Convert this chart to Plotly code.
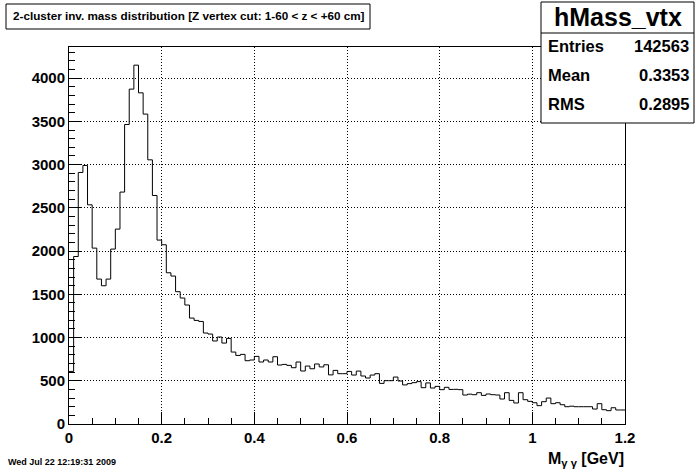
import plotly.graph_objects as go

# ---- data ----
bin_width = 0.01
x_min = 0.0
counts = [
    608, 1937, 2909, 2990, 2535, 2034, 1676, 1599, 1676, 2023,
    2254, 2682, 3464, 3873, 4150, 3830, 3584, 3055, 2643, 2127,
    2073, 1749, 1711, 1530, 1457, 1376, 1225, 1198, 1186, 1052,
    1040, 960, 1006, 936, 990, 832, 793, 805, 732, 740,
    782, 717, 740, 717, 778, 682, 689, 678, 651, 717,
    613, 670, 639, 694, 660, 685, 568, 620, 582, 582,
    608, 566, 612, 555, 532, 566, 582, 470, 501, 501,
    543, 497, 452, 467, 478, 490, 420, 475, 416, 435,
    397, 424, 400, 401, 397, 335, 345, 339, 362, 331,
    347, 339, 335, 289, 362, 273, 243, 362, 281, 262,
    246, 212, 258, 300, 235, 246, 223, 200, 206, 200,
    200, 200, 200, 173, 235, 165, 154, 188, 162, 162,
]
title_text = "2-cluster inv. mass distribution [Z vertex cut: 1-60 < z < +60 cm]"
hist_name = "hMass_vtx"
stat_labels = ["Entries", "Mean", "RMS"]
stat_values = ["142563", "0.3353", "0.2895"]
date_text = "Wed Jul 22 12:19:31 2009"
x_title = "M<sub>γ γ</sub> [GeV]"

edges = [round(x_min + i * bin_width, 4) for i in range(len(counts) + 1)]
y_step = counts + [counts[-1]]

W, H = 696, 472
L, R, T, B = 69, 625, 47, 424


def px(x):
    return (x - L) / (R - L)


def py(y):
    return (B - y) / (B - T)


FONT = "Liberation Sans, Arial, sans-serif"

fig = go.Figure()
fig.add_trace(go.Scatter(
    x=edges, y=y_step, mode="lines", line=dict(shape="hv", color="black", width=1),
    hoverinfo="skip", showlegend=False,
))

axis_common = dict(
    showline=True, linecolor="black", linewidth=1, mirror=True,
    ticks="inside", tickcolor="black", ticklen=12, tickwidth=1,
    showgrid=True, gridcolor="black", griddash="1px,2px", gridwidth=1,
    zeroline=False,
    tickfont=dict(family=FONT, size=15, color="black", weight="bold"),
)

fig.update_xaxes(
    range=[0, 1.2], dtick=0.2, tick0=0,
    minor=dict(dtick=0.05, ticks="inside", ticklen=6, tickcolor="black", showgrid=False),
    **axis_common,
)
fig.update_yaxes(
    range=[0, 4360], dtick=500, tick0=0,
    minor=dict(dtick=100, ticks="inside", ticklen=6, tickcolor="black", showgrid=False),
    **axis_common,
)

shapes = [
    # title box
    dict(type="rect", xref="paper", yref="paper", x0=px(6), x1=px(370), y0=py(29), y1=py(4),
         line=dict(color="black", width=1), fillcolor="white", layer="above"),
    # stats box
    dict(type="rect", xref="paper", yref="paper", x0=px(541), x1=px(694), y0=py(123), y1=py(2),
         line=dict(color="black", width=1), fillcolor="white", layer="above"),
    dict(type="line", xref="paper", yref="paper", x0=px(541), x1=px(694), y0=py(33), y1=py(33),
         line=dict(color="black", width=1), layer="above"),
]

ann = []
ann.append(dict(text=title_text, x=px(189), y=py(16), xref="paper", yref="paper",
                xanchor="center", yanchor="middle", showarrow=False,
                font=dict(family=FONT, size=11.7, color="black", weight="bold")))
ann.append(dict(text=hist_name, x=px(618), y=py(17), xref="paper", yref="paper",
                xanchor="center", yanchor="middle", showarrow=False,
                font=dict(family=FONT, size=25, color="black", weight="bold")))
for i, (lab, val) in enumerate(zip(stat_labels, stat_values)):
    yy = 46 + i * 29
    ann.append(dict(text=lab, x=px(546), y=py(yy), xref="paper", yref="paper",
                    xanchor="left", yanchor="middle", showarrow=False,
                    font=dict(family=FONT, size=16.5, color="black", weight="bold")))
    ann.append(dict(text=val, x=px(691), y=py(yy), xref="paper", yref="paper",
                    xanchor="right", yanchor="middle", showarrow=False,
                    font=dict(family=FONT, size=16.5, color="black", weight="bold")))
ann.append(dict(text=date_text, x=px(6), y=py(462), xref="paper", yref="paper",
                xanchor="left", yanchor="middle", showarrow=False,
                font=dict(family=FONT, size=9, color="black", weight="bold")))
ann.append(dict(text=x_title, x=px(626), y=py(459), xref="paper", yref="paper",
                xanchor="right", yanchor="middle", showarrow=False,
                font=dict(family=FONT, size=16, color="black", weight="bold")))

fig.update_layout(
    width=W, height=H,
    margin=dict(l=L, r=W - R, t=T, b=H - B, pad=0),
    paper_bgcolor="white", plot_bgcolor="white",
    shapes=shapes, annotations=ann, showlegend=False,
)

fig.write_html(
    "out.html",
    config={"displayModeBar": False},
    post_script="document.body.style.margin='0';document.body.style.overflow='hidden';",
)
